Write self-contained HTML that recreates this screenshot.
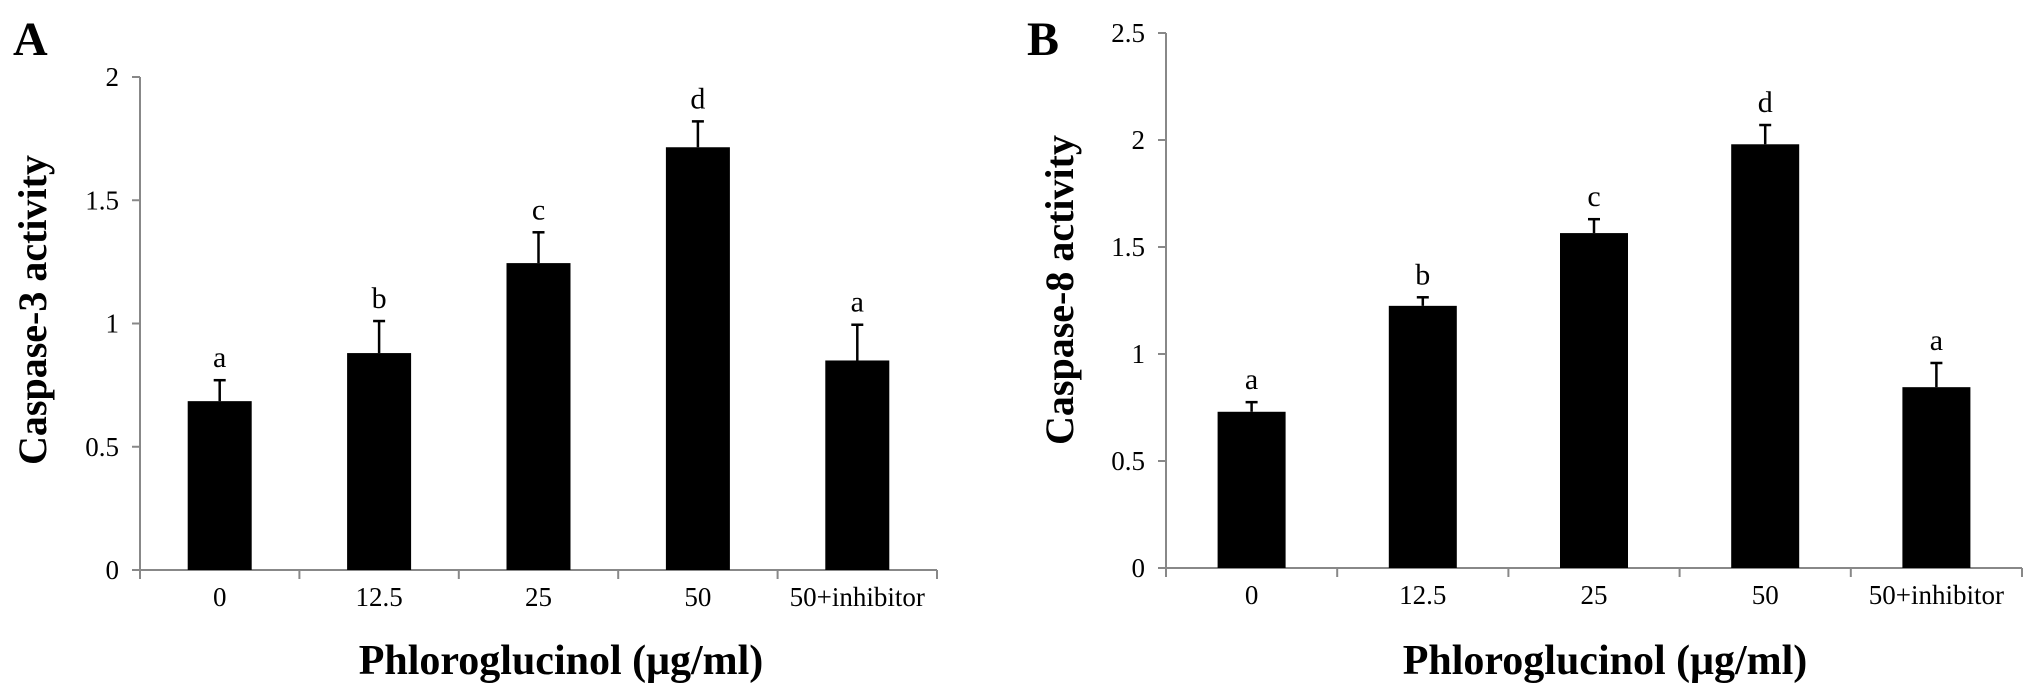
<!DOCTYPE html>
<html><head><meta charset="utf-8"><style>
body{margin:0;background:#fff;}
svg{display:block;font-family:"Liberation Serif",serif;}
</style></head><body>
<svg id="chart" width="2031" height="696" viewBox="0 0 2031 696"></svg>
<script>
const categories = ["0","12.5","25","50","50+inhibitor"];
const casp3Values = [0.685,0.88,1.245,1.715,0.85];
const casp3Errors = [0.085,0.13,0.125,0.105,0.145];
const casp3Letters = ["a","b","c","d","a"];
const casp3Ticks = [0,0.5,1,1.5,2];
const casp8Values = [0.73,1.225,1.565,1.98,0.845];
const casp8Errors = [0.045,0.04,0.065,0.09,0.113];
const casp8Letters = ["a","b","c","d","a"];
const casp8Ticks = [0,0.5,1,1.5,2,2.5];

const NS="http://www.w3.org/2000/svg";
const svg=document.getElementById('chart');
function mk(tag,attrs,parent){const e=document.createElementNS(NS,tag);for(const k in attrs)e.setAttribute(k,attrs[k]);(parent||svg).appendChild(e);return e;}

function panel(cfg){
  const g=mk('g',{});
  
  
  const yMax=cfg.ticks[cfg.ticks.length-1];
  const y=v=>cfg.y0-(v/yMax)*(cfg.y0-cfg.yTop);
  const bw=(cfg.x1-cfg.x0)/categories.length;
  const xc=i=>cfg.x0+bw*(i+0.5);
  const ya=mk('line',{x1:cfg.x0,y1:cfg.yTop,x2:cfg.x0,y2:cfg.y0,stroke:'#888','stroke-width':2},g);
  
  const xa=mk('line',{x1:cfg.x0,y1:cfg.y0,x2:cfg.x1,y2:cfg.y0,stroke:'#888','stroke-width':2},g);
  
  cfg.ticks.forEach(t=>{
    mk('line',{x1:cfg.x0-8,y1:y(t),x2:cfg.x0,y2:y(t),stroke:'#888','stroke-width':2},g);
    const tl=mk('text',{x:cfg.x0-21,y:y(t)+9,'font-size':27,'text-anchor':'end'},g);
    tl.textContent=t;
    
  });
  for(let i=0;i<=categories.length;i++){
    mk('line',{x1:cfg.x0+bw*i,y1:cfg.y0,x2:cfg.x0+bw*i,y2:cfg.y0+9,stroke:'#888','stroke-width':2},g);
  }
  categories.forEach((c,i)=>{
    const v=cfg.values[i],e=cfg.errors[i];
    const b=mk('rect',{x:xc(i)-cfg.barW/2,y:y(v),width:cfg.barW,height:cfg.y0-y(v),fill:'#000'},g);
    
    const el=mk('line',{x1:xc(i),y1:y(v),x2:xc(i),y2:y(v+e),stroke:'#000','stroke-width':2.5},g);
    
    mk('line',{x1:xc(i)-6,y1:y(v+e),x2:xc(i)+6,y2:y(v+e),stroke:'#000','stroke-width':2.5},g);
    const lt=mk('text',{x:xc(i),y:y(v+e)-13,'font-size':30,'text-anchor':'middle'},g);
    lt.textContent=cfg.letters[i];
    
    const cl=mk('text',{x:xc(i),y:cfg.y0+36,'font-size':27,'text-anchor':'middle'},g);
    cl.textContent=c;
    
  });
  const xt=mk('text',{x:cfg.titleX,y:674,'font-size':42,'font-weight':'bold','text-anchor':'middle'},g);
  xt.textContent='Phloroglucinol (μg/ml)';
  
  const yt=mk('text',{x:0,y:0,'font-size':40,'font-weight':'bold','text-anchor':'middle',transform:`translate(${cfg.yTitleX},${cfg.yTitleY}) rotate(-90)`},g);
  yt.textContent=cfg.yTitle;
  
  const pl=mk('text',{x:cfg.letterX,y:55,'font-size':48,'font-weight':'bold'},g);
  pl.textContent=cfg.label;
  
}
panel({id:'a',x0:140,x1:937,y0:570,yTop:77,barW:64,values:casp3Values,errors:casp3Errors,letters:casp3Letters,ticks:casp3Ticks,yTitle:'Caspase-3 activity',yTitleX:46,yTitleY:310,titleX:561,label:'A',letterX:13});
panel({id:'b',x0:1166,x1:2022,y0:568,yTop:33,barW:68,values:casp8Values,errors:casp8Errors,letters:casp8Letters,ticks:casp8Ticks,yTitle:'Caspase-8 activity',yTitleX:1073,yTitleY:290,titleX:1605,label:'B',letterX:1027});
</script>
</body></html>
